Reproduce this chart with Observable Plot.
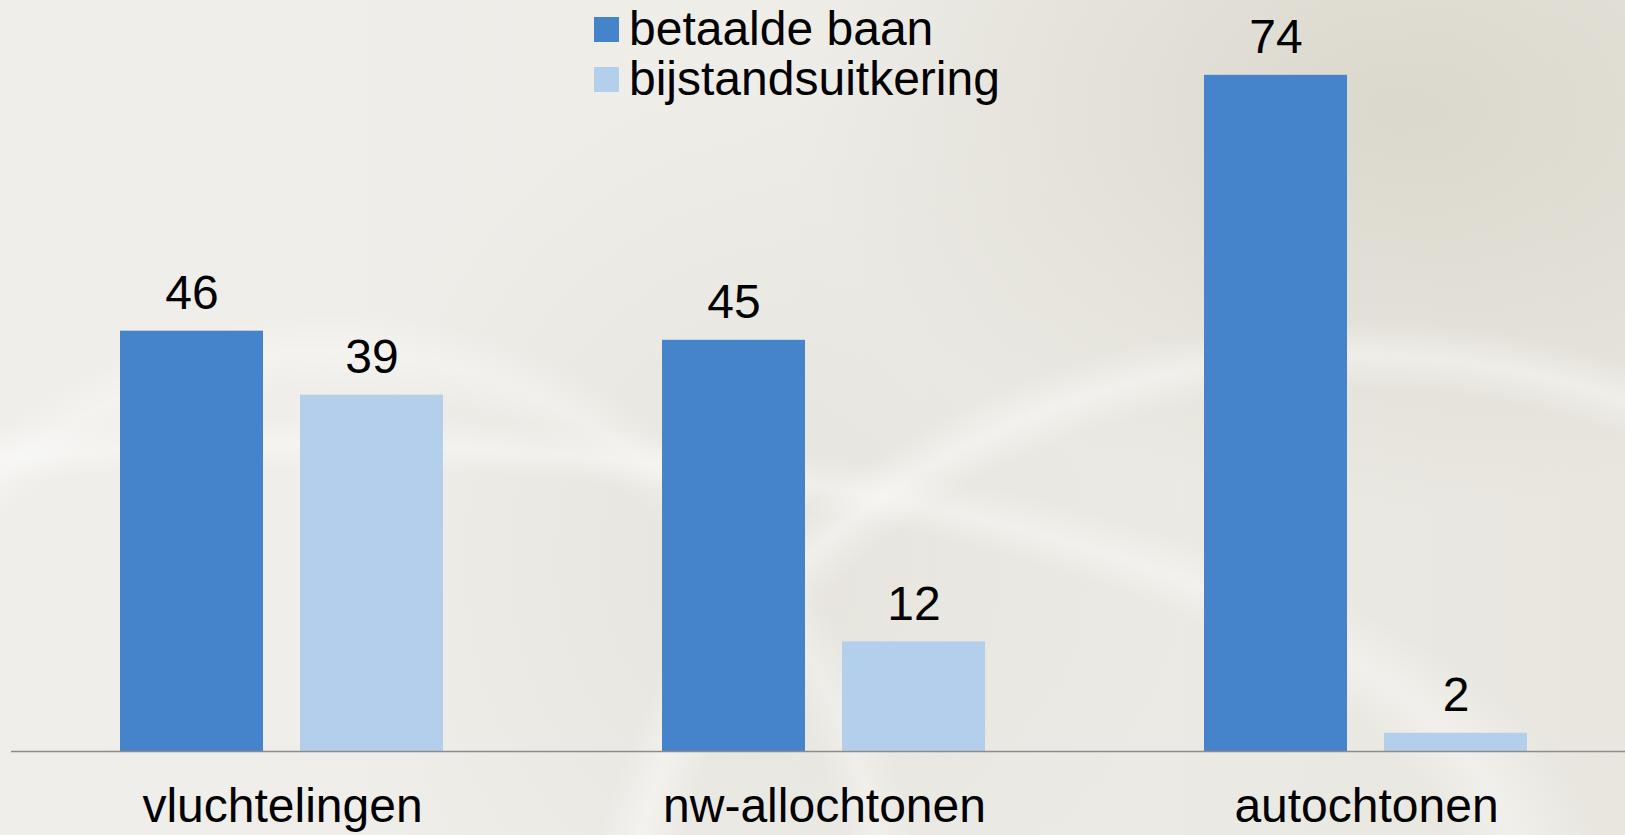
<!DOCTYPE html>
<html>
<head>
<meta charset="utf-8">
<script src="https://cdn.jsdelivr.net/npm/d3@7"></script>
<script src="https://cdn.jsdelivr.net/npm/@observablehq/plot@0.6"></script>
<style>
  html, body { margin: 0; padding: 0; }
  body {
    width: 1625px; height: 835px; overflow: hidden; position: relative;
    font-family: "Liberation Sans", Arial, sans-serif;
    background-color: #eeede9;
    background-image:
      radial-gradient(ellipse 1400px 500px at 300px 880px, rgba(255,255,255,0) 82%, rgba(255,255,255,0.35) 87%, rgba(255,255,255,0) 93%),
      radial-gradient(ellipse 850px 700px at 1350px 950px, rgba(255,255,255,0) 80%, rgba(255,255,255,0.4) 85%, rgba(255,255,255,0) 90%),
      radial-gradient(ellipse 700px 800px at 330px 1000px, rgba(255,255,255,0) 76%, rgba(255,255,255,0.3) 81%, rgba(255,255,255,0) 86%),
      radial-gradient(ellipse 600px 400px at 1400px 110px, rgba(214,210,198,0.75), rgba(214,210,198,0) 100%),
      radial-gradient(ellipse 420px 500px at 760px 560px, rgba(222,219,210,0.5), rgba(222,219,210,0) 100%),
      linear-gradient(90deg, #efeeea 0%, #eeede8 45%, #e8e6df 100%);
  }
  #chart { position: absolute; left: 0; top: 0; }
  #legend { position: absolute; left: 594px; top: 4px; font-size: 48px; color: #000; }
  .row { position: relative; height: 50px; line-height: 50px; white-space: nowrap; }
  .sw { position: absolute; left: 0; top: 13px; width: 25px; height: 25px; }
  .lab { position: absolute; left: 35px; top: 0; }
</style>
</head>
<body>
<div id="chart"></div>
<div id="legend"></div>
<script>
const groups = ["vluchtelingen", "nw-allochtonen", "autochtonen"];
const series = ["betaalde baan", "bijstandsuitkering"];
const betaaldeBaan = [46, 45, 74];
const bijstandsuitkering = [39, 12, 2];
const colors = ["#4584cb", "#b4cfec"];

const seriesValues = [betaaldeBaan, bijstandsuitkering];
const data = [];
groups.forEach((g, i) => {
  series.forEach((s, j) => data.push({group: g, series: s, value: seriesValues[j][i]}));
});

const chart = Plot.plot({
  width: 1625,
  height: 835,
  marginTop: 20,
  marginBottom: 84,
  marginLeft: 10,
  marginRight: 0,
  style: {background: "transparent", fontFamily: "'Liberation Sans', Arial, sans-serif", fontSize: "48px", color: "#000", overflow: "visible"},
  fx: {domain: groups, range: [10.5, 1636.5], padding: 0},
  x: {domain: series, paddingInner: 0.204, paddingOuter: 0.6, axis: null},
  y: {domain: [0, 80], axis: null},
  color: {domain: series, range: colors},
  marks: [
    Plot.barY(data, {fx: "group", x: "series", y: "value", fill: "series"}),
    Plot.ruleY([0], {stroke: "#8c8c8c", strokeWidth: 1.5}),
    Plot.text(data, {fx: "group", x: "series", y: "value", text: d => String(d.value), lineAnchor: "bottom", dy: -22, fill: "#000"}),
    Plot.axisFx({anchor: "bottom", tickSize: 0, tickPadding: 36, label: null, fill: "#000"})
  ]
});
document.getElementById("chart").appendChild(chart);

const legend = document.getElementById("legend");
series.forEach((s, i) => {
  const row = document.createElement("div");
  row.className = "row";
  const sw = document.createElement("div");
  sw.className = "sw";
  sw.style.background = colors[i];
  const lab = document.createElement("div");
  lab.className = "lab";
  lab.textContent = s;
  row.appendChild(sw);
  row.appendChild(lab);
  legend.appendChild(row);
});
</script>
</body>
</html>
